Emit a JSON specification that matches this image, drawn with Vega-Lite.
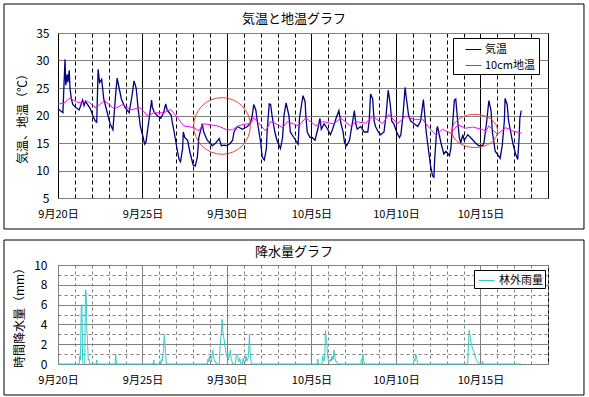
{
"$schema":"https://vega.github.io/schema/vega-lite/v6.json",
"padding":{"left":3,"top":3,"right":3,"bottom":3},
"background":"white",
"spacing":9,
"config":{
 "font":"Noto Sans CJK JP",
 "view":{"stroke":"black","strokeWidth":1},
 "axis":{"labelFont":"Noto Sans CJK JP","titleFont":"Noto Sans CJK JP","labelColor":"black","titleColor":"black","titleFontWeight":"normal","ticks":false,"domain":false,"labelFontSize":12,"titleFontSize":12},
 "title":{"font":"Noto Sans CJK JP","fontSize":13,"fontWeight":"normal","color":"black","anchor":"middle","frame":"bounds","baseline":"middle"},
 "legend":{"labelFont":"Noto Sans CJK JP","labelColor":"black","labelFontSize":11}
},
"resolve":{"scale":{"color":"independent","x":"independent","y":"independent"},"legend":{"color":"independent"}},
"datasets":{
"air":[
{"d":"2010-09-20T00:00Z","v":21.2},{"d":"2010-09-20T04:00Z","v":20.8},{"d":"2010-09-20T07:00Z","v":20.5},{"d":"2010-09-20T08:00Z","v":24},{"d":"2010-09-20T10:00Z","v":30.2},{"d":"2010-09-20T11:00Z","v":25.5},{"d":"2010-09-20T13:00Z","v":27.5},{"d":"2010-09-20T14:00Z","v":26},{"d":"2010-09-20T16:00Z","v":28.2},{"d":"2010-09-20T17:00Z","v":25},{"d":"2010-09-20T19:00Z","v":23},{"d":"2010-09-20T21:00Z","v":22},
{"d":"2010-09-21T01:00Z","v":21.5},{"d":"2010-09-21T06:00Z","v":21},{"d":"2010-09-21T11:00Z","v":22.8},{"d":"2010-09-21T13:00Z","v":21.8},{"d":"2010-09-21T15:00Z","v":22.6},{"d":"2010-09-21T19:00Z","v":21.8},{"d":"2010-09-21T22:00Z","v":21.2},
{"d":"2010-09-22T02:00Z","v":19.8},{"d":"2010-09-22T05:00Z","v":19},{"d":"2010-09-22T07:00Z","v":18.8},{"d":"2010-09-22T09:00Z","v":28.4},{"d":"2010-09-22T11:00Z","v":26},{"d":"2010-09-22T14:00Z","v":26.6},{"d":"2010-09-22T17:00Z","v":23},{"d":"2010-09-22T21:00Z","v":21},
{"d":"2010-09-23T02:00Z","v":18.5},{"d":"2010-09-23T06:00Z","v":17.4},{"d":"2010-09-23T10:00Z","v":24},{"d":"2010-09-23T12:00Z","v":26.8},{"d":"2010-09-23T14:00Z","v":25.5},{"d":"2010-09-23T18:00Z","v":23},{"d":"2010-09-23T23:00Z","v":21.5},
{"d":"2010-09-24T05:00Z","v":20.5},{"d":"2010-09-24T09:00Z","v":23.5},{"d":"2010-09-24T12:00Z","v":26.3},{"d":"2010-09-24T15:00Z","v":25},{"d":"2010-09-24T18:00Z","v":21},{"d":"2010-09-24T19:00Z","v":20},{"d":"2010-09-24T21:00Z","v":18},
{"d":"2010-09-25T01:00Z","v":16},{"d":"2010-09-25T03:00Z","v":14.8},{"d":"2010-09-25T05:00Z","v":15.2},{"d":"2010-09-25T09:00Z","v":19},{"d":"2010-09-25T13:00Z","v":22.8},{"d":"2010-09-25T14:00Z","v":21.5},{"d":"2010-09-25T17:00Z","v":20.5},{"d":"2010-09-25T21:00Z","v":20},
{"d":"2010-09-26T02:00Z","v":19.5},{"d":"2010-09-26T06:00Z","v":20.5},{"d":"2010-09-26T09:00Z","v":22.1},{"d":"2010-09-26T11:00Z","v":21},{"d":"2010-09-26T14:00Z","v":20.5},{"d":"2010-09-26T17:00Z","v":20},{"d":"2010-09-26T18:00Z","v":19},{"d":"2010-09-26T21:00Z","v":17},
{"d":"2010-09-27T01:00Z","v":14},{"d":"2010-09-27T04:00Z","v":12},{"d":"2010-09-27T06:00Z","v":11.6},{"d":"2010-09-27T09:00Z","v":14},{"d":"2010-09-27T10:00Z","v":17},{"d":"2010-09-27T12:00Z","v":16},{"d":"2010-09-27T16:00Z","v":15.5},{"d":"2010-09-27T20:00Z","v":13},
{"d":"2010-09-28T00:00Z","v":11},{"d":"2010-09-28T03:00Z","v":10.8},{"d":"2010-09-28T06:00Z","v":12.5},{"d":"2010-09-28T08:00Z","v":16},{"d":"2010-09-28T13:00Z","v":18.5},{"d":"2010-09-28T15:00Z","v":17},{"d":"2010-09-28T20:00Z","v":15.5},
{"d":"2010-09-29T00:00Z","v":15},{"d":"2010-09-29T03:00Z","v":14.5},{"d":"2010-09-29T08:00Z","v":15},{"d":"2010-09-29T13:00Z","v":15.8},{"d":"2010-09-29T16:00Z","v":14.5},{"d":"2010-09-29T20:00Z","v":14.6},
{"d":"2010-09-30T00:00Z","v":14.5},{"d":"2010-09-30T05:00Z","v":15},{"d":"2010-09-30T08:00Z","v":15.5},{"d":"2010-09-30T10:00Z","v":17},{"d":"2010-09-30T15:00Z","v":18},{"d":"2010-09-30T22:00Z","v":17.5},
{"d":"2010-10-01T05:00Z","v":18},{"d":"2010-10-01T09:00Z","v":18.5},{"d":"2010-10-01T12:00Z","v":20},{"d":"2010-10-01T14:00Z","v":22},{"d":"2010-10-01T17:00Z","v":21},{"d":"2010-10-01T19:00Z","v":19},
{"d":"2010-10-02T00:00Z","v":15},{"d":"2010-10-02T02:00Z","v":12.5},{"d":"2010-10-02T05:00Z","v":11.9},{"d":"2010-10-02T08:00Z","v":14},{"d":"2010-10-02T09:00Z","v":17},{"d":"2010-10-02T12:00Z","v":22.1},{"d":"2010-10-02T14:00Z","v":22},{"d":"2010-10-02T16:00Z","v":20},{"d":"2010-10-02T20:00Z","v":17},{"d":"2010-10-02T23:00Z","v":15.5},
{"d":"2010-10-03T04:00Z","v":14},{"d":"2010-10-03T07:00Z","v":16},{"d":"2010-10-03T09:00Z","v":20},{"d":"2010-10-03T12:00Z","v":22.3},{"d":"2010-10-03T16:00Z","v":20},{"d":"2010-10-03T18:00Z","v":17},{"d":"2010-10-03T23:00Z","v":16},
{"d":"2010-10-04T04:00Z","v":15},{"d":"2010-10-04T05:00Z","v":14.8},{"d":"2010-10-04T07:00Z","v":19.5},{"d":"2010-10-04T10:00Z","v":22},{"d":"2010-10-04T12:00Z","v":23.6},{"d":"2010-10-04T15:00Z","v":22.5},{"d":"2010-10-04T16:00Z","v":20},{"d":"2010-10-04T18:00Z","v":17},{"d":"2010-10-04T22:00Z","v":16},
{"d":"2010-10-05T01:00Z","v":16},{"d":"2010-10-05T05:00Z","v":15.5},{"d":"2010-10-05T09:00Z","v":17.5},{"d":"2010-10-05T12:00Z","v":19.5},{"d":"2010-10-05T14:00Z","v":17.5},{"d":"2010-10-05T18:00Z","v":18.5},{"d":"2010-10-05T23:00Z","v":17.5},
{"d":"2010-10-06T03:00Z","v":16.5},{"d":"2010-10-06T06:00Z","v":17.5},{"d":"2010-10-06T11:00Z","v":19.5},{"d":"2010-10-06T15:00Z","v":20.9},{"d":"2010-10-06T18:00Z","v":18.5},{"d":"2010-10-06T21:00Z","v":17},{"d":"2010-10-06T23:00Z","v":15},
{"d":"2010-10-07T02:00Z","v":14.5},{"d":"2010-10-07T06:00Z","v":15.5},{"d":"2010-10-07T08:00Z","v":17},{"d":"2010-10-07T13:00Z","v":20.9},{"d":"2010-10-07T15:00Z","v":18.5},{"d":"2010-10-07T17:00Z","v":17.5},{"d":"2010-10-07T22:00Z","v":18},
{"d":"2010-10-08T03:00Z","v":17},{"d":"2010-10-08T08:00Z","v":17},{"d":"2010-10-08T10:00Z","v":19},{"d":"2010-10-08T12:00Z","v":23.9},{"d":"2010-10-08T15:00Z","v":23},{"d":"2010-10-08T17:00Z","v":19},{"d":"2010-10-08T19:00Z","v":18},{"d":"2010-10-08T23:00Z","v":17},
{"d":"2010-10-09T02:00Z","v":16.5},{"d":"2010-10-09T07:00Z","v":17},{"d":"2010-10-09T10:00Z","v":20},{"d":"2010-10-09T13:00Z","v":24.6},{"d":"2010-10-09T16:00Z","v":22},{"d":"2010-10-09T18:00Z","v":19},{"d":"2010-10-09T21:00Z","v":18.5},
{"d":"2010-10-10T01:00Z","v":17},{"d":"2010-10-10T05:00Z","v":16},{"d":"2010-10-10T07:00Z","v":16.5},{"d":"2010-10-10T10:00Z","v":20},{"d":"2010-10-10T13:00Z","v":25.1},{"d":"2010-10-10T15:00Z","v":23},{"d":"2010-10-10T18:00Z","v":20},{"d":"2010-10-10T21:00Z","v":19},
{"d":"2010-10-11T02:00Z","v":18.5},{"d":"2010-10-11T07:00Z","v":18},{"d":"2010-10-11T11:00Z","v":19},{"d":"2010-10-11T15:00Z","v":22.9},{"d":"2010-10-11T17:00Z","v":20},{"d":"2010-10-11T19:00Z","v":17},{"d":"2010-10-11T22:00Z","v":14},
{"d":"2010-10-12T01:00Z","v":11},{"d":"2010-10-12T04:00Z","v":9},{"d":"2010-10-12T06:00Z","v":8.8},{"d":"2010-10-12T07:00Z","v":12},{"d":"2010-10-12T10:00Z","v":17.5},{"d":"2010-10-12T11:00Z","v":18},{"d":"2010-10-12T16:00Z","v":15},{"d":"2010-10-12T18:00Z","v":14},{"d":"2010-10-12T20:00Z","v":13},{"d":"2010-10-12T23:00Z","v":13.5},
{"d":"2010-10-13T04:00Z","v":12.7},{"d":"2010-10-13T06:00Z","v":14},{"d":"2010-10-13T11:00Z","v":22.8},{"d":"2010-10-13T13:00Z","v":23},{"d":"2010-10-13T15:00Z","v":20},{"d":"2010-10-13T18:00Z","v":16},{"d":"2010-10-13T20:00Z","v":15},{"d":"2010-10-13T23:00Z","v":16.5},
{"d":"2010-10-14T01:00Z","v":15.5},{"d":"2010-10-14T06:00Z","v":16.5},{"d":"2010-10-14T10:00Z","v":16},{"d":"2010-10-14T17:00Z","v":15},{"d":"2010-10-14T22:00Z","v":14.5},
{"d":"2010-10-15T03:00Z","v":14.5},{"d":"2010-10-15T05:00Z","v":15},{"d":"2010-10-15T09:00Z","v":19},{"d":"2010-10-15T12:00Z","v":22.7},{"d":"2010-10-15T15:00Z","v":21},{"d":"2010-10-15T17:00Z","v":17},{"d":"2010-10-15T21:00Z","v":13.5},
{"d":"2010-10-16T00:00Z","v":13},{"d":"2010-10-16T04:00Z","v":12.2},{"d":"2010-10-16T07:00Z","v":14.5},{"d":"2010-10-16T10:00Z","v":19},{"d":"2010-10-16T11:00Z","v":23.1},{"d":"2010-10-16T14:00Z","v":22},{"d":"2010-10-16T16:00Z","v":19},{"d":"2010-10-16T19:00Z","v":17},{"d":"2010-10-16T22:00Z","v":15},
{"d":"2010-10-17T02:00Z","v":13},{"d":"2010-10-17T05:00Z","v":12},{"d":"2010-10-17T07:00Z","v":16},{"d":"2010-10-17T08:00Z","v":19.5},{"d":"2010-10-17T10:00Z","v":20.9}
],
"soil":[
{"d":"2010-09-20T00:00Z","v":22.1},{"d":"2010-09-20T08:00Z","v":22.2},{"d":"2010-09-20T17:00Z","v":23.2},{"d":"2010-09-21T02:00Z","v":22.5},{"d":"2010-09-21T09:00Z","v":22.3},{"d":"2010-09-21T18:00Z","v":22.6},{"d":"2010-09-22T06:00Z","v":21.4},{"d":"2010-09-22T18:00Z","v":22.7},{"d":"2010-09-23T08:00Z","v":21.2},{"d":"2010-09-23T20:00Z","v":22},{"d":"2010-09-24T08:00Z","v":21},{"d":"2010-09-24T20:00Z","v":21.5},{"d":"2010-09-25T08:00Z","v":19.9},{"d":"2010-09-25T16:00Z","v":20.5},{"d":"2010-09-26T06:00Z","v":20.5},{"d":"2010-09-26T16:00Z","v":21.1},{"d":"2010-09-26T20:00Z","v":20.5},{"d":"2010-09-27T11:00Z","v":18.1},{"d":"2010-09-28T01:00Z","v":17.8},{"d":"2010-09-28T08:00Z","v":17.2},{"d":"2010-09-28T15:00Z","v":18.5},{"d":"2010-09-29T11:00Z","v":18.1},{"d":"2010-09-30T00:00Z","v":17.4},{"d":"2010-09-30T08:00Z","v":17.4},{"d":"2010-09-30T17:00Z","v":18.2},{"d":"2010-10-01T10:00Z","v":18.6},{"d":"2010-10-01T14:00Z","v":19.6},{"d":"2010-10-02T07:00Z","v":17.2},{"d":"2010-10-02T14:00Z","v":18.9},{"d":"2010-10-02T22:00Z","v":18.5},{"d":"2010-10-03T07:00Z","v":17.8},{"d":"2010-10-03T14:00Z","v":18.9},{"d":"2010-10-04T06:00Z","v":18.1},{"d":"2010-10-04T16:00Z","v":19.6},{"d":"2010-10-05T06:00Z","v":18.1},{"d":"2010-10-05T16:00Z","v":18.9},{"d":"2010-10-06T07:00Z","v":18.5},{"d":"2010-10-06T18:00Z","v":19.5},{"d":"2010-10-07T08:00Z","v":18.1},{"d":"2010-10-07T15:00Z","v":18.9},{"d":"2010-10-08T05:00Z","v":18.6},{"d":"2010-10-08T15:00Z","v":19.9},{"d":"2010-10-09T05:00Z","v":18.5},{"d":"2010-10-09T14:00Z","v":20.2},{"d":"2010-10-10T02:00Z","v":18.5},{"d":"2010-10-10T14:00Z","v":19.9},{"d":"2010-10-11T02:00Z","v":19.3},{"d":"2010-10-11T14:00Z","v":19.3},{"d":"2010-10-11T21:00Z","v":18.1},{"d":"2010-10-12T09:00Z","v":16.4},{"d":"2010-10-12T18:00Z","v":17.5},{"d":"2010-10-13T06:00Z","v":16.8},{"d":"2010-10-13T16:00Z","v":18.3},{"d":"2010-10-14T03:00Z","v":17.7},{"d":"2010-10-14T13:00Z","v":17.9},{"d":"2010-10-15T02:00Z","v":17.5},{"d":"2010-10-15T08:00Z","v":17.2},{"d":"2010-10-15T12:00Z","v":18.1},{"d":"2010-10-16T00:00Z","v":16.6},{"d":"2010-10-16T12:00Z","v":17.8},{"d":"2010-10-16T22:00Z","v":17.2},{"d":"2010-10-17T10:00Z","v":16.8}
],
"marks":[
{"d":"2010-09-29T17:00Z","v":18.1,"k":"a"},{"d":"2010-10-14T16:00Z","v":17.2,"k":"b"}
],
"rain":[
{"d":"2010-09-20T00:00Z","v":0},{"d":"2010-09-21T06:00Z","v":0},{"d":"2010-09-21T07:00Z","v":0.8},{"d":"2010-09-21T08:00Z","v":0.4},{"d":"2010-09-21T09:00Z","v":5.8},{"d":"2010-09-21T10:00Z","v":6.0},{"d":"2010-09-21T11:00Z","v":0.3},{"d":"2010-09-21T12:00Z","v":0},{"d":"2010-09-21T14:00Z","v":0},{"d":"2010-09-21T15:00Z","v":7.5},{"d":"2010-09-21T16:00Z","v":7.3},{"d":"2010-09-21T17:00Z","v":3.5},{"d":"2010-09-21T18:00Z","v":2.2},{"d":"2010-09-21T19:00Z","v":0.4},{"d":"2010-09-21T20:00Z","v":0.5},{"d":"2010-09-21T21:00Z","v":0},
{"d":"2010-09-22T06:00Z","v":0},{"d":"2010-09-22T07:00Z","v":0.4},{"d":"2010-09-22T08:00Z","v":0},{"d":"2010-09-23T09:00Z","v":0},{"d":"2010-09-23T10:00Z","v":1.0},{"d":"2010-09-23T11:00Z","v":0},{"d":"2010-09-25T15:00Z","v":0},{"d":"2010-09-25T16:00Z","v":0.4},{"d":"2010-09-25T17:00Z","v":0},
{"d":"2010-09-26T00:00Z","v":0},{"d":"2010-09-26T01:00Z","v":0.3},{"d":"2010-09-26T02:00Z","v":0},{"d":"2010-09-26T03:00Z","v":0.5},{"d":"2010-09-26T04:00Z","v":0.3},{"d":"2010-09-26T05:00Z","v":1.0},{"d":"2010-09-26T06:00Z","v":1.5},{"d":"2010-09-26T07:00Z","v":3.0},{"d":"2010-09-26T08:00Z","v":2.0},{"d":"2010-09-26T09:00Z","v":1.0},{"d":"2010-09-26T10:00Z","v":0},
{"d":"2010-09-28T20:00Z","v":0},{"d":"2010-09-28T21:00Z","v":0.5},{"d":"2010-09-28T22:00Z","v":0.2},{"d":"2010-09-28T23:00Z","v":0.8},{"d":"2010-09-29T00:00Z","v":0.3},{"d":"2010-09-29T01:00Z","v":0.4},{"d":"2010-09-29T02:00Z","v":0.2},{"d":"2010-09-29T03:00Z","v":1.0},{"d":"2010-09-29T04:00Z","v":1.4},{"d":"2010-09-29T05:00Z","v":0.6},{"d":"2010-09-29T06:00Z","v":0.5},{"d":"2010-09-29T07:00Z","v":0.2},{"d":"2010-09-29T08:00Z","v":0.3},{"d":"2010-09-29T09:00Z","v":0},
{"d":"2010-09-29T13:00Z","v":0},{"d":"2010-09-29T14:00Z","v":1.5},{"d":"2010-09-29T15:00Z","v":2.5},{"d":"2010-09-29T16:00Z","v":3.0},{"d":"2010-09-29T17:00Z","v":4.5},{"d":"2010-09-29T18:00Z","v":3.5},{"d":"2010-09-29T19:00Z","v":2.8},{"d":"2010-09-29T20:00Z","v":2.5},{"d":"2010-09-29T21:00Z","v":1.8},{"d":"2010-09-29T22:00Z","v":1.5},{"d":"2010-09-29T23:00Z","v":0.8},{"d":"2010-09-30T00:00Z","v":0.8},{"d":"2010-09-30T01:00Z","v":1.0},{"d":"2010-09-30T02:00Z","v":0.4},{"d":"2010-09-30T03:00Z","v":0.6},{"d":"2010-09-30T04:00Z","v":1.2},{"d":"2010-09-30T05:00Z","v":1.4},{"d":"2010-09-30T06:00Z","v":0.5},{"d":"2010-09-30T07:00Z","v":0.3},{"d":"2010-09-30T08:00Z","v":0},
{"d":"2010-09-30T12:00Z","v":0},{"d":"2010-09-30T13:00Z","v":0.8},{"d":"2010-09-30T14:00Z","v":1.0},{"d":"2010-09-30T15:00Z","v":1.0},{"d":"2010-09-30T16:00Z","v":0.3},{"d":"2010-09-30T17:00Z","v":0.2},{"d":"2010-09-30T18:00Z","v":0.6},{"d":"2010-09-30T19:00Z","v":0.3},{"d":"2010-09-30T20:00Z","v":0},{"d":"2010-09-30T22:00Z","v":0},{"d":"2010-09-30T23:00Z","v":0.6},{"d":"2010-10-01T00:00Z","v":0.2},{"d":"2010-10-01T01:00Z","v":0.3},{"d":"2010-10-01T02:00Z","v":0.2},{"d":"2010-10-01T03:00Z","v":0.8},{"d":"2010-10-01T04:00Z","v":0.3},{"d":"2010-10-01T05:00Z","v":0.4},{"d":"2010-10-01T06:00Z","v":0.6},{"d":"2010-10-01T07:00Z","v":1.5},{"d":"2010-10-01T08:00Z","v":3.0},{"d":"2010-10-01T09:00Z","v":1.0},{"d":"2010-10-01T10:00Z","v":0.4},{"d":"2010-10-01T11:00Z","v":0},
{"d":"2010-10-05T08:00Z","v":0},{"d":"2010-10-05T09:00Z","v":0.5},{"d":"2010-10-05T10:00Z","v":0},{"d":"2010-10-05T15:00Z","v":0},{"d":"2010-10-05T16:00Z","v":0.8},{"d":"2010-10-05T17:00Z","v":0.5},{"d":"2010-10-05T18:00Z","v":0.3},{"d":"2010-10-05T19:00Z","v":1.0},{"d":"2010-10-05T20:00Z","v":3.4},{"d":"2010-10-05T21:00Z","v":2.5},{"d":"2010-10-05T22:00Z","v":2.0},{"d":"2010-10-05T23:00Z","v":0.8},{"d":"2010-10-06T00:00Z","v":0.3},{"d":"2010-10-06T01:00Z","v":0.4},{"d":"2010-10-06T02:00Z","v":0.2},{"d":"2010-10-06T03:00Z","v":0.5},{"d":"2010-10-06T04:00Z","v":0.3},{"d":"2010-10-06T05:00Z","v":0.8},{"d":"2010-10-06T06:00Z","v":0.4},{"d":"2010-10-06T07:00Z","v":0.5},{"d":"2010-10-06T08:00Z","v":1.4},{"d":"2010-10-06T09:00Z","v":0.8},{"d":"2010-10-06T10:00Z","v":0.4},{"d":"2010-10-06T11:00Z","v":0.2},{"d":"2010-10-06T12:00Z","v":0.3},{"d":"2010-10-06T13:00Z","v":0},
{"d":"2010-10-07T22:00Z","v":0},{"d":"2010-10-07T23:00Z","v":0.5},{"d":"2010-10-08T00:00Z","v":0.3},{"d":"2010-10-08T01:00Z","v":1.0},{"d":"2010-10-08T02:00Z","v":0.5},{"d":"2010-10-08T03:00Z","v":0},
{"d":"2010-10-11T01:00Z","v":0},{"d":"2010-10-11T02:00Z","v":0.5},{"d":"2010-10-11T03:00Z","v":0.3},{"d":"2010-10-11T04:00Z","v":1.0},{"d":"2010-10-11T05:00Z","v":0.8},{"d":"2010-10-11T06:00Z","v":0.4},{"d":"2010-10-11T07:00Z","v":0},
{"d":"2010-10-14T06:00Z","v":0},{"d":"2010-10-14T07:00Z","v":2.0},{"d":"2010-10-14T08:00Z","v":3.4},{"d":"2010-10-14T09:00Z","v":3.0},{"d":"2010-10-14T10:00Z","v":2.5},{"d":"2010-10-14T11:00Z","v":2.0},{"d":"2010-10-14T12:00Z","v":1.8},{"d":"2010-10-14T13:00Z","v":1.5},{"d":"2010-10-14T14:00Z","v":1.4},{"d":"2010-10-14T15:00Z","v":1.2},{"d":"2010-10-14T16:00Z","v":1.0},{"d":"2010-10-14T17:00Z","v":0.6},{"d":"2010-10-14T18:00Z","v":0.5},{"d":"2010-10-14T19:00Z","v":0.3},{"d":"2010-10-14T20:00Z","v":0.2},{"d":"2010-10-14T21:00Z","v":0.2},{"d":"2010-10-14T22:00Z","v":0},
{"d":"2010-10-15T02:00Z","v":0},{"d":"2010-10-15T03:00Z","v":0.3},{"d":"2010-10-15T04:00Z","v":0},{"d":"2010-10-17T10:00Z","v":0}
]
},
"vconcat":[
{
 "title":{"text":"気温と地温グラフ","offset":-22},
 "width":490,"height":165,
 "layer":[
  {"data":{"name":"air"},
   "mark":{"type":"line","strokeWidth":1.3},
   "encoding":{
    "x":{"field":"d","type":"temporal","title":null,
      "scale":{"type":"utc","domain":[{"year":2010,"month":9,"date":20,"utc":true},{"year":2010,"month":10,"date":19,"utc":true}],"nice":false},
      "axis":{"tickCount":{"interval":"day","step":1},"grid":true,"gridColor":"black","gridWidth":1,
        "gridDash":{"condition":{"test":"utcdate(datum.value) % 5 === 0","value":[]},"value":[4,3]},
        "labelExpr":"utcdate(datum.value) % 5 === 0 ? (utcmonth(datum.value)+1) + '月' + utcdate(datum.value) + '日' : ''",
        "labelFontSize":11,"labelPadding":10,"labelOverlap":false,"labelFlush":false,"labelBound":false}},
    "y":{"field":"v","type":"quantitative","title":"気温、地温（℃）",
      "scale":{"domain":[5,35],"nice":false,"zero":false},
      "axis":{"values":[5,10,15,20,25,30,35],"tickCount":50,"format":"d","grid":true,"gridColor":"#808080","labelPadding":9,"labelFontSize":12,"titlePadding":6,"labelOverlap":false,"labelFlush":false,"labelBound":false}},
    "color":{"datum":"気温","type":"nominal",
      "scale":{"domain":["気温","10cm地温"],"range":["#000080","#ff00ff"]},
      "legend":{"orient":"none","legendX":395,"legendY":5,"title":null,"strokeColor":"black","fillColor":"white","padding":3,"symbolType":"stroke","symbolSize":256,"symbolStrokeWidth":1,"symbolOffset":9,"labelOffset":3,"rowPadding":2,"labelFontSize":11}}}},
  {"data":{"name":"soil"},
   "mark":{"type":"line","strokeWidth":1},
   "encoding":{
    "x":{"field":"d","type":"temporal","title":null},
    "y":{"field":"v","type":"quantitative","title":"気温、地温（℃）"},
    "color":{"datum":"10cm地温","type":"nominal",
      "scale":{"domain":["気温","10cm地温"],"range":["#000080","#ff00ff"]},
      "legend":{"orient":"none","legendX":395,"legendY":5,"title":null,"strokeColor":"black","fillColor":"white","padding":3,"symbolType":"stroke","symbolSize":256,"symbolStrokeWidth":1,"symbolOffset":9,"labelOffset":3,"rowPadding":2,"labelFontSize":11}}}},
  {"data":{"name":"marks"},
   "transform":[{"filter":"datum.k === 'a'"}],
   "mark":{"type":"point","shape":"circle","size":3204,"filled":false,"color":"#e8453c","strokeWidth":1,"opacity":1},
   "encoding":{
    "x":{"field":"d","type":"temporal","title":null},
    "y":{"field":"v","type":"quantitative","title":"気温、地温（℃）"}}},
  {"data":{"name":"marks"},
   "transform":[{"filter":"datum.k === 'b'"}],
   "mark":{"type":"point","shape":"M-1,0A1,0.73 0 1,1 1,0A1,0.73 0 1,1 -1,0Z","size":2079,"filled":false,"color":"#e8453c","strokeWidth":1,"opacity":1},
   "encoding":{
    "x":{"field":"d","type":"temporal","title":null},
    "y":{"field":"v","type":"quantitative","title":"気温、地温（℃）"}}},
  {"data":{"values":[{}]},
   "mark":{"type":"rect","fill":"transparent","stroke":"black","strokeWidth":1},
   "encoding":{
    "x":{"datum":{"year":2010,"month":9,"date":16,"hours":19,"minutes":18,"utc":true},"type":"temporal","title":null},
    "x2":{"datum":{"year":2010,"month":10,"date":21,"hours":3,"minutes":6,"utc":true}},
    "y":{"datum":40.27,"type":"quantitative","title":"気温、地温（℃）"},
    "y2":{"datum":-0.636}}}
 ]
},
{
 "title":{"text":"降水量グラフ","offset":-19},
 "width":490,"height":99,
 "layer":[
  {"data":{"name":"rain"},
   "mark":{"type":"line","strokeWidth":1},
   "encoding":{
    "x":{"field":"d","type":"temporal","title":null,
      "scale":{"type":"utc","domain":[{"year":2010,"month":9,"date":20,"utc":true},{"year":2010,"month":10,"date":19,"utc":true}],"nice":false},
      "axis":{"tickCount":{"interval":"day","step":1},"grid":true,"gridColor":"#808080","gridWidth":1,
        "gridDash":{"condition":{"test":"utcdate(datum.value) % 5 === 0","value":[]},"value":[3,3]},
        "labelExpr":"utcdate(datum.value) % 5 === 0 ? (utcmonth(datum.value)+1) + '月' + utcdate(datum.value) + '日' : ''",
        "labelFontSize":11,"labelPadding":10,"labelOverlap":false,"labelFlush":false,"labelBound":false}},
    "y":{"field":"v","type":"quantitative","title":"時間降水量（mm）",
      "scale":{"domain":[0,10],"nice":false,"zero":false},
      "axis":{"values":[0,1,2,3,4,5,6,7,8,9,10],"tickCount":50,"format":"d","grid":true,"gridColor":"#808080",
        "gridDash":{"condition":{"test":"datum.value % 2 === 1","value":[3,3]},"value":[]},
        "labelExpr":"datum.value % 2 === 0 ? datum.label : ''","labelPadding":11,"labelFontSize":12,"titlePadding":7,"labelOverlap":false,"labelFlush":false,"labelBound":false}},
    "color":{"datum":"林外雨量","type":"nominal",
      "scale":{"domain":["林外雨量"],"range":["#33cccc"]},
      "legend":{"orient":"none","legendX":416,"legendY":5,"title":null,"strokeColor":"black","fillColor":"white","padding":2,"symbolType":"stroke","symbolSize":256,"symbolStrokeWidth":1,"symbolOffset":2,"labelOffset":4,"labelFontSize":11}}}},
  {"data":{"values":[{}]},
   "mark":{"type":"rect","fill":"transparent","stroke":"black","strokeWidth":1},
   "encoding":{
    "x":{"datum":{"year":2010,"month":9,"date":16,"hours":19,"minutes":18,"utc":true},"type":"temporal","title":null},
    "x2":{"datum":{"year":2010,"month":10,"date":21,"hours":3,"minutes":6,"utc":true}},
    "y":{"datum":12.525,"type":"quantitative","title":"時間降水量（mm）"},
    "y2":{"datum":-3.131}}}
 ]
}
]
}
